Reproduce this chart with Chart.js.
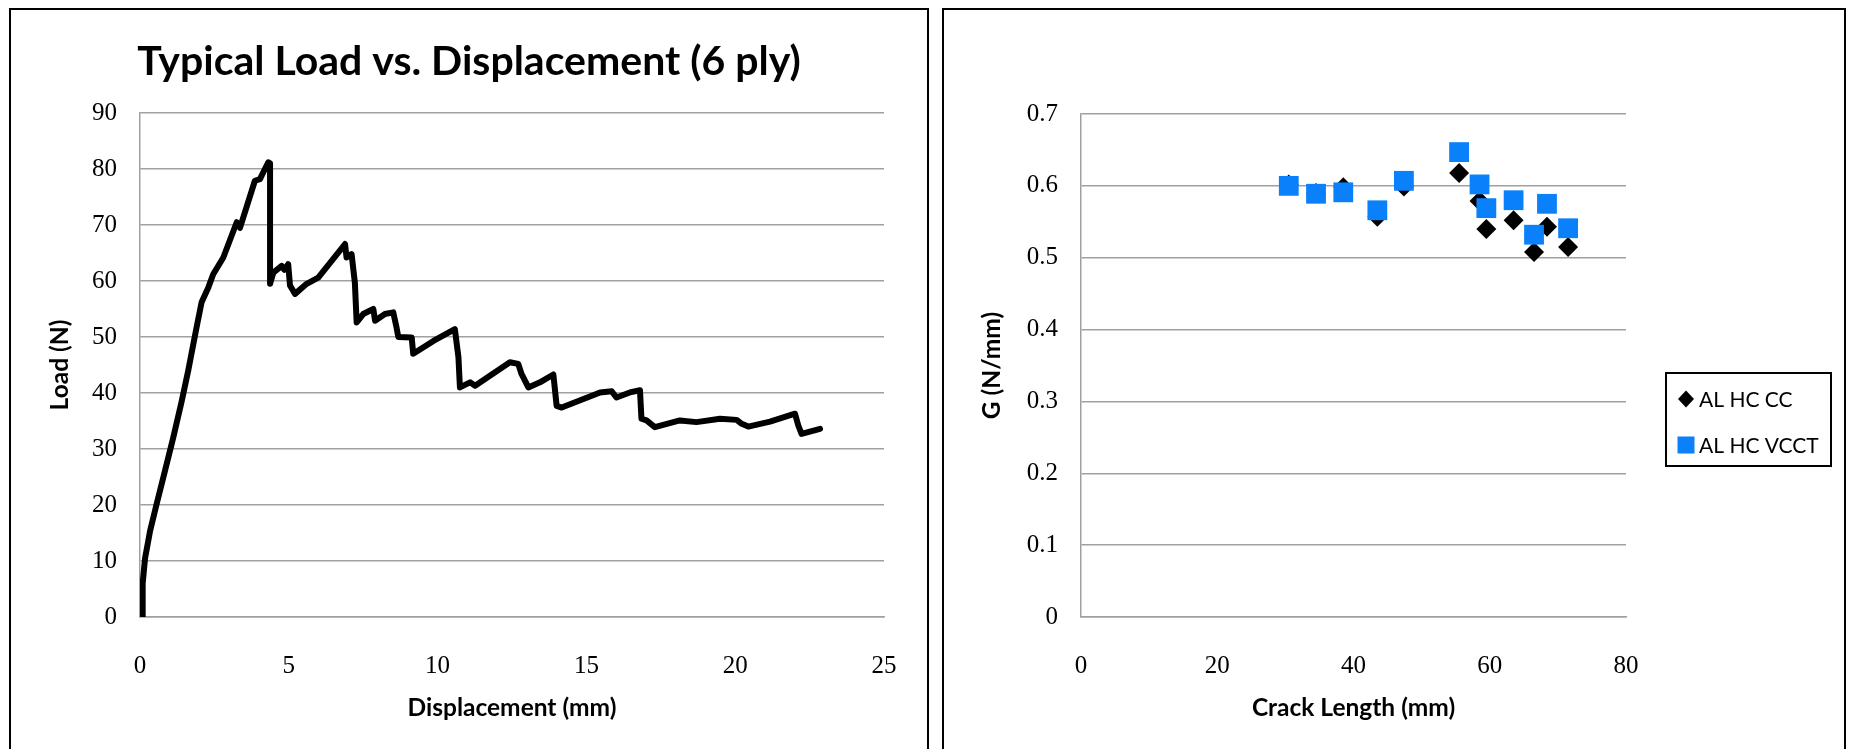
<!DOCTYPE html>
<html>
<head>
<meta charset="utf-8">
<script src="https://cdn.jsdelivr.net/npm/chart.js@4.4.1/dist/chart.umd.min.js"></script>
<style>
  body { margin: 0; background: #fff; width: 1849px; height: 749px; overflow: hidden; position: relative; }
  .panel { position: absolute; top: 8px; height: 760px; border: 2px solid #000; box-sizing: border-box; }
  canvas { position: absolute; }
</style>
</head>
<body>
<div class="panel" style="left:9px; width:920px;"></div>
<div class="panel" style="left:942px; width:904px;"></div>
<canvas id="load" width="916" height="739" style="left:11px; top:10px;"></canvas>
<canvas id="crack" width="900" height="739" style="left:944px; top:10px;"></canvas>
<script>
// Typical load vs displacement curve (6 ply)
var dispValues = [0.07, 0.09, 0.17, 0.34, 0.56, 0.84, 1.12, 1.40, 1.62, 1.90, 2.07, 2.30, 2.46, 2.80, 3.25, 3.36, 3.86, 4.03, 4.31, 4.37,
    4.37, 4.48, 4.76, 4.85, 4.98, 5.04, 5.21, 5.60, 5.99, 6.89, 6.94, 7.11, 7.22, 7.28, 7.50, 7.84, 7.90, 8.23, 8.51, 8.62,
    8.68, 9.13, 9.18, 9.86, 10.58, 10.70, 10.75, 11.09, 11.26, 12.43, 12.71, 12.82, 13.05, 13.44, 13.89, 14.00, 14.17, 15.46, 15.85, 16.01,
    16.46, 16.80, 16.85, 17.02, 17.30, 18.14, 18.70, 19.49, 20.05, 20.22, 20.44, 21.17, 22.01, 22.12, 22.23, 22.85];
var loadValues = [0, 6, 10.5, 15.4, 20.2, 26.1, 32.1, 38.5, 44, 51.7, 56.2, 58.9, 61.2, 64.2, 70.5, 69.5, 77.9, 78.2, 81.2, 81,
    59.5, 61.5, 62.7, 62, 63.0, 59.2, 57.7, 59.5, 60.6, 66.6, 64.2, 64.8, 59.7, 52.6, 54.1, 55.0, 52.9, 54.1, 54.4, 51.7,
    50.0, 49.9, 47.0, 49.3, 51.4, 46.4, 41.0, 41.9, 41.3, 45.5, 45.2, 43.4, 41.0, 41.9, 43.3, 37.7, 37.4, 40.1, 40.3, 39.2,
    40.1, 40.5, 35.4, 35.1, 33.9, 35.1, 34.8, 35.4, 35.2, 34.5, 34.0, 34.9, 36.3, 34.2, 32.7, 33.6];

// G vs crack length
var crackLength = [30.5, 34.5, 38.5, 43.5, 47.4, 55.5, 58.5, 59.5, 63.5, 66.5, 68.4, 71.5];
var gCC   = [0.602, 0.590, 0.598, 0.557, 0.599, 0.618, 0.579, 0.540, 0.552, 0.508, 0.543, 0.515];
var gVCCT = [0.600, 0.589, 0.591, 0.566, 0.607, 0.647, 0.602, 0.569, 0.580, 0.532, 0.575, 0.541];

var seriesNames = ["AL HC CC", "AL HC VCCT"];
var seriesColors = ['#000000', '#0A80FA'];

var gridColor = '#a0a0a0';
var tickFont = { family: 'Liberation Serif', size: 25 };
var axisTitleFont = { family: 'Lato', size: 24.5, weight: 'bold', lineHeight: 1 };

function toPoints(xs, ys) {
    var pts = [];
    for (var i = 0; i < xs.length; i++) pts.push({ x: xs[i], y: ys[i] });
    return pts;
}

function xAxis(max, step, title) {
    return {
        type: 'linear', min: 0, max: max,
        ticks: { stepSize: step, color: '#000', font: tickFont, padding: 26 },
        grid: { display: false },
        border: { display: true, color: gridColor, width: 1.5 },
        title: { display: true, text: title, color: '#000', font: axisTitleFont, padding: { top: 0, bottom: 29 } },
        afterFit: function (s) { s.height = 132; }
    };
}

function yAxis(max, step, title, width, titlePad) {
    return {
        type: 'linear', min: 0, max: max,
        ticks: { stepSize: step, color: '#000', font: tickFont, padding: 23 },
        grid: { color: gridColor, lineWidth: 1.5, drawTicks: false },
        border: { display: true, color: gridColor, width: 1.5 },
        title: { display: true, text: title, color: '#000', font: axisTitleFont, padding: { top: titlePad, bottom: 0 } },
        afterFit: function (s) { s.width = width; }
    };
}

// legend with a frame, as in the original
var framedLegend = {
    id: 'framedLegend',
    afterDraw: function (chart) {
        var ctx = chart.ctx;
        var a = chart.chartArea;
        var bx = a.right + 40, by = a.top + 259, bw = 165, bh = 93;
        ctx.save();
        ctx.lineWidth = 2;
        ctx.strokeStyle = '#000';
        ctx.strokeRect(bx, by, bw, bh);
        ctx.font = '21px Lato';
        ctx.textBaseline = 'middle';
        for (var i = 0; i < seriesNames.length; i++) {
            var cy = by + 26 + i * 46, cx = bx + 20;
            ctx.fillStyle = seriesColors[i];
            ctx.beginPath();
            if (i == 0) {
                ctx.moveTo(cx - 8, cy); ctx.lineTo(cx, cy - 8.5); ctx.lineTo(cx + 8, cy); ctx.lineTo(cx, cy + 8.5);
                ctx.closePath(); ctx.fill();
            } else {
                ctx.fillRect(cx - 8.5, cy - 8.5, 17, 17);
            }
            ctx.fillStyle = '#000';
            ctx.fillText(seriesNames[i], bx + 33, cy + 1);
        }
        ctx.restore();
    }
};

window.onload = function () {
    new Chart(document.getElementById('load'), {
        type: 'line',
        data: {
            datasets: [{
                data: toPoints(dispValues, loadValues),
                borderColor: '#000',
                borderWidth: 6,
                borderJoinStyle: 'round',
                borderCapStyle: 'round',
                pointRadius: 0,
                tension: 0,
                fill: false
            }]
        },
        options: {
            responsive: false, animation: false, devicePixelRatio: 1,
            layout: { padding: { left: 43, right: 43, top: 0, bottom: 0 } },
            plugins: {
                legend: { display: false },
                tooltip: { enabled: false },
                title: {
                    display: true,
                    text: 'Typical Load vs. Displacement (6 ply)',
                    color: '#000',
                    font: { family: 'Lato', size: 41, weight: 'bold', lineHeight: 1.2 },
                    padding: { top: 26.9, bottom: 26.9 }
                }
            },
            scales: {
                x: xAxis(25, 5, 'Displacement (mm)'),
                y: yAxis(90, 10, 'Load (N)', 86, -6)
            }
        }
    });

    new Chart(document.getElementById('crack'), {
        type: 'scatter',
        data: {
            datasets: [{
                label: seriesNames[0],
                data: toPoints(crackLength, gCC),
                pointStyle: 'rectRot',
                pointRadius: 10,
                backgroundColor: seriesColors[0],
                borderColor: seriesColors[0],
                borderWidth: 0,
                order: 1
            }, {
                label: seriesNames[1],
                data: toPoints(crackLength, gVCCT),
                pointStyle: 'rect',
                pointRadius: 14,
                backgroundColor: seriesColors[1],
                borderColor: seriesColors[1],
                borderWidth: 0,
                order: 0
            }]
        },
        options: {
            responsive: false, animation: false, devicePixelRatio: 1,
            layout: { padding: { left: 0, right: 218, top: 104, bottom: 0 } },
            plugins: { legend: { display: false }, tooltip: { enabled: false } },
            scales: {
                x: xAxis(80, 20, 'Crack Length (mm)'),
                y: yAxis(0.7, 0.1, 'G (N/mm)', 137, 36)
            }
        },
        plugins: [framedLegend]
    });
};
</script>
</body>
</html>
